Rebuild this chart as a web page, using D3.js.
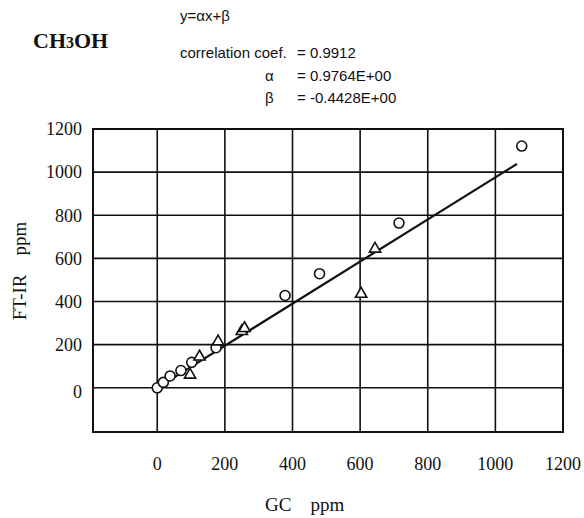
<!DOCTYPE html>
<html>
<head>
<meta charset="utf-8">
<script src="https://cdn.jsdelivr.net/npm/d3@7"></script>
<style>
  body { margin: 0; background: #fff; }
  svg { display: block; }
</style>
</head>
<body>
<svg></svg>
<script>
// size of the page
var width = 584;
var height = 518;
var svg = d3.select("svg").attr("width", width).attr("height", height);

// data
var xTicks = [0, 200, 400, 600, 800, 1000, 1200];
var yTicks = [0, 200, 400, 600, 800, 1000, 1200];
var circleGC = [0, 18, 38, 70, 102, 174, 378, 480, 715, 1078];
var circleIR = [0, 25, 55, 80, 118, 186, 428, 529, 764, 1121];
var triGC = [97, 125, 180, 250, 258, 603, 644];
var triIR = [60, 144, 214, 262, 276, 435, 644];
var alpha = 0.9764;
var beta = -0.4428;
var fitRange = [0, 1064];

// plot box
var boxLeft = 93, boxRight = 563, boxTop = 129, boxBottom = 432;

var x = d3.scaleLinear().domain([-190, 1200]).range([boxLeft, boxRight]);
var y = d3.scaleLinear().domain([-205, 1200]).range([boxBottom, boxTop]);

var serif = "'Liberation Serif', 'Times New Roman', serif";
var sans = "'Liberation Sans', Arial, sans-serif";

// grid lines
svg.append("g").selectAll("line")
    .data(xTicks.slice(0, -1))
    .enter().append("line")
    .attr("x1", d => x(d)).attr("x2", d => x(d))
    .attr("y1", boxTop).attr("y2", boxBottom)
    .attr("stroke", "#111").attr("stroke-width", 1.6);

svg.append("g").selectAll("line")
    .data(yTicks.slice(0, -1))
    .enter().append("line")
    .attr("x1", boxLeft).attr("x2", boxRight)
    .attr("y1", d => y(d)).attr("y2", d => y(d))
    .attr("stroke", "#111").attr("stroke-width", 1.6);

// border
svg.append("rect")
    .attr("x", boxLeft).attr("y", boxTop)
    .attr("width", boxRight - boxLeft).attr("height", boxBottom - boxTop)
    .attr("fill", "none").attr("stroke", "#111").attr("stroke-width", 2);

// tick labels
svg.append("g").selectAll("text")
    .data(xTicks)
    .enter().append("text")
    .attr("x", d => x(d))
    .attr("y", 470)
    .attr("text-anchor", "middle")
    .attr("font-family", serif)
    .attr("font-size", "18px")
    .attr("fill", "#111")
    .text(d => d);

svg.append("g").selectAll("text")
    .data(yTicks)
    .enter().append("text")
    .attr("x", 82)
    .attr("y", d => y(d) + (d === 0 ? 4 : 0))
    .attr("dy", "0.35em")
    .attr("text-anchor", "end")
    .attr("font-family", serif)
    .attr("font-size", "18px")
    .attr("fill", "#111")
    .text(d => d);

// axis titles
svg.append("text")
    .attr("x", 265).attr("y", 511)
    .attr("font-family", serif).attr("font-size", "19px").attr("fill", "#111")
    .style("white-space", "pre")
    .text("GC    ppm");

svg.append("text")
    .attr("transform", "translate(26,271) rotate(-90)")
    .attr("text-anchor", "middle")
    .attr("font-family", serif).attr("font-size", "19px").attr("fill", "#111")
    .style("white-space", "pre")
    .text("FT-IR    ppm");

// regression line
var fitLine = d3.line()
    .x(d => x(d))
    .y(d => y(alpha * d + beta));

svg.append("path")
    .attr("d", fitLine(fitRange))
    .attr("fill", "none")
    .attr("stroke", "#111")
    .attr("stroke-width", 2.2);

// circle points
svg.append("g").selectAll("circle")
    .data(circleGC)
    .enter().append("circle")
    .attr("cx", d => x(d))
    .attr("cy", (d, i) => y(circleIR[i]))
    .attr("r", 5)
    .attr("fill", "#fff")
    .attr("stroke", "#111")
    .attr("stroke-width", 1.6);

// triangle points
var tri = d3.symbol().type(d3.symbolTriangle).size(55);
svg.append("g").selectAll("path")
    .data(triGC)
    .enter().append("path")
    .attr("d", tri)
    .attr("transform", (d, i) => "translate(" + x(d) + "," + y(triIR[i]) + ")")
    .attr("fill", "#fff")
    .attr("stroke", "#111")
    .attr("stroke-width", 1.6);

// compound name
var compound = svg.append("text")
    .attr("x", 33).attr("y", 48)
    .attr("font-family", serif).attr("font-weight", "bold")
    .attr("font-size", "22px").attr("fill", "#111");
compound.append("tspan").text("CH");
compound.append("tspan").attr("font-size", "16px").text("3");
compound.append("tspan").text("OH");

// fit info
var info = svg.append("g")
    .attr("font-family", sans).attr("font-size", "15px").attr("fill", "#111")
    .style("white-space", "pre");

info.append("text").attr("x", 180).attr("y", 21).text("y=αx+β");
info.append("text").attr("x", 180).attr("y", 58).text("correlation  coef.");
info.append("text").attr("x", 297).attr("y", 58).text("=  0.9912");
info.append("text").attr("x", 265).attr("y", 81).text("α");
info.append("text").attr("x", 297).attr("y", 81).text("=  0.9764E+00");
info.append("text").attr("x", 265).attr("y", 103).text("β");
info.append("text").attr("x", 297).attr("y", 103).text("= -0.4428E+00");
</script>
</body>
</html>
